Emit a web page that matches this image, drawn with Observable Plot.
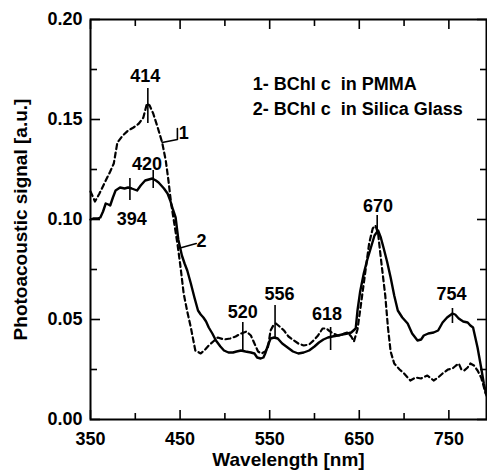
<!DOCTYPE html>
<html><head><meta charset="utf-8">
<script src="https://cdn.jsdelivr.net/npm/d3@7"></script>
<script src="https://cdn.jsdelivr.net/npm/@observablehq/plot@0.6"></script>
<style>body{margin:0;background:#fff}</style>
</head><body><div id="chart"></div>
<script>
// Curve 1: BChl c in PMMA (dashed)
const pmmaWl = [350,355,360,367,372,376,380,386,392,398,404,409,413,416,420,425,430,434,437,440,443,447,450,454,458,462,467,473,478,482,487,492,499,506,512,518,524,529,533,537,541,545,548,551,554,557,561,566,571,577,582,588,594,599,604,609,613,616,621,626,629,633,637,641,644,648,652,655,658,661,665,668,671,674,677,679,682,685,689,695,700,707,713,719,726,733,738,743,749,754,758,761,764,767,771,774,778,782,786,788,791];
const pmmaSignal = [0.114,0.109,0.113,0.1195,0.124,0.128,0.1385,0.142,0.1445,0.146,0.148,0.151,0.158,0.157,0.153,0.146,0.1385,0.1295,0.1195,0.108,0.0995,0.088,0.078,0.063,0.054,0.046,0.0345,0.033,0.035,0.037,0.039,0.041,0.040,0.0405,0.0415,0.043,0.044,0.042,0.038,0.034,0.033,0.034,0.036,0.0445,0.047,0.048,0.0465,0.0445,0.0415,0.0395,0.038,0.037,0.0375,0.0395,0.042,0.0455,0.0455,0.0445,0.043,0.042,0.042,0.043,0.0435,0.0415,0.039,0.045,0.058,0.068,0.078,0.088,0.0955,0.097,0.093,0.081,0.0695,0.062,0.046,0.034,0.028,0.025,0.023,0.0195,0.021,0.0205,0.022,0.0195,0.021,0.023,0.025,0.0255,0.027,0.028,0.025,0.0245,0.026,0.028,0.027,0.0245,0.021,0.018,0.013];

// Curve 2: BChl c in Silica Glass (solid)
const silicaWl = [350,353,358,361,364,367,370,372,375,378,383,388,392,396,402,406,411,415,419,423,426,429,432,436,439,442,445,448,452,455,458,462,466,470,473,476,479,482,486,490,495,499,504,509,513,518,523,529,533,536,540,543,545,548,551,555,559,564,570,576,582,588,594,600,605,610,615,620,626,631,637,641,646,648,651,655,659,663,667,671,674,677,681,685,689,693,698,704,709,715,719,722,727,733,738,743,748,754,757,761,766,771,774,777,780,782,786,789,792];
const silicaSignal = [0.100,0.1005,0.1005,0.101,0.104,0.108,0.1075,0.107,0.111,0.1145,0.116,0.1155,0.116,0.1155,0.1145,0.117,0.1195,0.120,0.1205,0.1195,0.1185,0.117,0.1155,0.113,0.1095,0.105,0.101,0.090,0.082,0.078,0.0745,0.068,0.061,0.0545,0.0525,0.051,0.049,0.046,0.043,0.0395,0.0365,0.0345,0.0335,0.0335,0.034,0.0345,0.034,0.0335,0.033,0.031,0.0305,0.031,0.033,0.037,0.0405,0.041,0.0405,0.038,0.036,0.034,0.033,0.0335,0.0345,0.0365,0.0385,0.040,0.041,0.0415,0.042,0.0425,0.043,0.0435,0.0455,0.0545,0.064,0.073,0.080,0.086,0.092,0.0945,0.091,0.086,0.079,0.071,0.062,0.0545,0.051,0.048,0.043,0.0395,0.040,0.042,0.043,0.0435,0.0445,0.0485,0.051,0.053,0.0525,0.0505,0.049,0.0485,0.047,0.046,0.040,0.036,0.026,0.018,0.012];

// Axis ticks
const xMajorTicks = [350,450,550,650,750];
const xMinorTicks = [400,500,600,700];
const yMajorTicks = [0,0.05,0.10,0.15,0.20];
const yMinorTicks = [0.025,0.075,0.125,0.175];

// Peak annotations
const peakWl =        [414,   420,    394,    520,    556,    618,    670,   754];
const peakTickLow =   [0.148, 0.1155, 0.1095, 0.0345, 0.0405, 0.0345, 0.093, 0.048];
const peakTickHigh =  [0.1655,0.1245, 0.1205, 0.0485, 0.057,  0.046,  0.102, 0.0555];
const peakLabelWl =   [411,   413,    396,    520,    561,    614,    671,   753];
const peakLabelY =    [0.1715,0.1275, 0.100,  0.0535, 0.0625, 0.0525, 0.1065,0.0628];

// Curve number labels and leaders
const curveLabels = ["1", "2"];
const curveLabelWl = [454, 474];
const curveLabelY = [0.143, 0.089];
const leader1Wl = [430, 447, 447];
const leader1Y = [0.1385, 0.140, 0.1455];
const leader2Wl = [448, 468];
const leader2Y = [0.0855, 0.088];

// Legend text
const legendLines = ["1- BChl c\u00a0 in PMMA", "2- BChl c\u00a0 in Silica Glass"];
const legendWl = [531, 531];
const legendY = [0.16775, 0.15525];

const pmma = pmmaWl.map((w, i) => ({w, s: pmmaSignal[i]}));
const silica = silicaWl.map((w, i) => ({w, s: silicaSignal[i]}));
const peaks = peakWl.map((w, i) => ({w, lo: peakTickLow[i], hi: peakTickHigh[i], lw: peakLabelWl[i], ly: peakLabelY[i]}));
const curveLab = curveLabels.map((t, i) => ({t, w: curveLabelWl[i], y: curveLabelY[i]}));
const leader1 = leader1Wl.map((w, i) => ({w, y: leader1Y[i]}));
const leader2 = leader2Wl.map((w, i) => ({w, y: leader2Y[i]}));
const legend = legendLines.map((t, i) => ({t, w: legendWl[i], y: legendY[i]}));

const font = "'Liberation Sans', Arial, Helvetica, sans-serif";

const chart = Plot.plot({
  width: 487,
  height: 470,
  marginLeft: 90,
  marginRight: 1,
  marginTop: 19,
  marginBottom: 51,
  x: {domain: [350, 792]},
  y: {domain: [0, 0.2]},
  style: {fontFamily: font, fontSize: "18px", fontWeight: "bold", background: "white", color: "black", overflow: "visible"},
  marks: [
    // tick labels
    Plot.axisX(xMajorTicks, {anchor: "bottom", tickSize: 0, tickPadding: 13, tickFormat: d => String(d), label: null, fontSize: 18}),
    Plot.axisY(yMajorTicks, {anchor: "left", tickSize: 0, tickPadding: 8, tickFormat: d => d.toFixed(2), label: null, fontSize: 18}),
    // inward ticks
    Plot.axisX(xMajorTicks, {anchor: "bottom", tickSize: -9, tickFormat: () => "", label: null, strokeWidth: 1.6}),
    Plot.axisX(xMinorTicks, {anchor: "bottom", tickSize: -6, tickFormat: () => "", label: null, strokeWidth: 1.6}),
    Plot.axisX(xMajorTicks, {anchor: "top", tickSize: -9, tickFormat: () => "", label: null, strokeWidth: 1.6}),
    Plot.axisX(xMinorTicks, {anchor: "top", tickSize: -6, tickFormat: () => "", label: null, strokeWidth: 1.6}),
    Plot.axisY(yMajorTicks, {anchor: "left", tickSize: -10, tickFormat: () => "", label: null, strokeWidth: 1.6}),
    Plot.axisY(yMinorTicks, {anchor: "left", tickSize: -7, tickFormat: () => "", label: null, strokeWidth: 1.6}),
    Plot.axisY(yMajorTicks, {anchor: "right", tickSize: -10, tickFormat: () => "", label: null, strokeWidth: 1.6}),
    Plot.axisY(yMinorTicks, {anchor: "right", tickSize: -7, tickFormat: () => "", label: null, strokeWidth: 1.6}),
    Plot.frame({stroke: "black", strokeWidth: 2}),
    // axis titles
    Plot.text(["Wavelength [nm]"], {text: d => d, frameAnchor: "bottom", dy: 40, lineAnchor: "middle", fontSize: 19, fontWeight: "bold"}),
    Plot.text(["Photoacoustic signal [a.u.]"], {text: d => d, frameAnchor: "left", dx: -70, rotate: -90, textAnchor: "middle", lineAnchor: "middle", fontSize: 19, fontWeight: "bold"}),
    // curves
    Plot.line(pmma, {x: "w", y: "s", stroke: "black", strokeWidth: 2.2, strokeDasharray: "5,3.5"}),
    Plot.line(silica, {x: "w", y: "s", stroke: "black", strokeWidth: 2.4}),
    // peak markers
    Plot.ruleX(peaks, {x: "w", y1: "lo", y2: "hi", stroke: "black", strokeWidth: 1.6}),
    Plot.text(peaks, {x: "lw", y: "ly", text: d => String(d.w), fontSize: 18, fontWeight: "bold", lineAnchor: "middle"}),
    // curve labels
    Plot.line(leader1, {x: "w", y: "y", stroke: "black", strokeWidth: 1.6}),
    Plot.line(leader2, {x: "w", y: "y", stroke: "black", strokeWidth: 1.6}),
    Plot.text(curveLab, {x: "w", y: "y", text: "t", fontSize: 18, fontWeight: "bold", lineAnchor: "middle"}),
    // legend
    Plot.text(legend, {x: "w", y: "y", text: "t", textAnchor: "start", fontSize: 18, fontWeight: "bold", lineAnchor: "middle"})
  ]
});
document.getElementById("chart").appendChild(chart);
</script>
</body></html>
